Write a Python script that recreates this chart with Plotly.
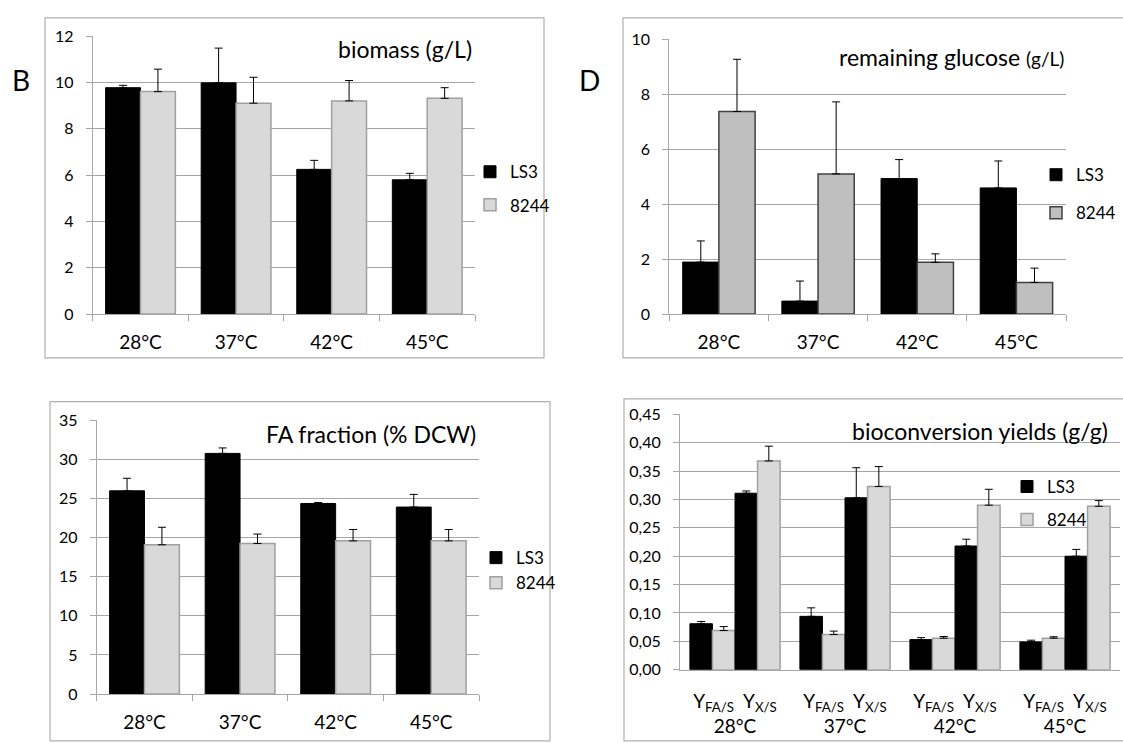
import plotly.graph_objects as go

W, H = 1123, 743
FONT = "Lato"

temps = ["28°C", "37°C", "42°C", "45°C"]

# Panel B: biomass (g/L)
bio_ls3 = [9.78, 9.99, 6.25, 5.80]
bio_ls3_err = [0.10, 1.50, 0.39, 0.28]
bio_8244 = [9.61, 9.11, 9.21, 9.32]
bio_8244_err = [0.97, 1.12, 0.88, 0.46]

# Panel D: remaining glucose (g/L)
glu_ls3 = [1.89, 0.47, 4.93, 4.59]
glu_ls3_err = [0.77, 0.73, 0.69, 0.98]
glu_8244 = [7.37, 5.10, 1.88, 1.15]
glu_8244_err = [1.90, 2.62, 0.31, 0.52]

# Panel C: FA fraction (% DCW)
fa_ls3 = [25.98, 30.76, 24.36, 23.90]
fa_ls3_err = [1.60, 0.70, 0.12, 1.62]
fa_8244 = [19.08, 19.25, 19.58, 19.58]
fa_8244_err = [2.24, 1.20, 1.45, 1.45]

# Panel E: bioconversion yields (g/g)
yfa_ls3 = [0.081, 0.094, 0.053, 0.049]
yfa_ls3_err = [0.004, 0.015, 0.0035, 0.003]
yfa_8244 = [0.069, 0.062, 0.0555, 0.0555]
yfa_8244_err = [0.007, 0.006, 0.003, 0.0025]
yxs_ls3 = [0.311, 0.303, 0.218, 0.200]
yxs_ls3_err = [0.004, 0.053, 0.012, 0.012]
yxs_8244 = [0.368, 0.323, 0.290, 0.288]
yxs_8244_err = [0.026, 0.035, 0.028, 0.010]
yield_ticktext = ["Y<sub>FA/S</sub>  Y<sub>X/S</sub><br>" + t for t in temps]

BLACK = "#000000"
LIGHT = "#d9d9d9"
LIGHT_LINE = "#a0a0a0"
MID = "#bfbfbf"
MID_LINE = "#404040"
GRID = "#a6a6a6"
FRAME = "#b0b0b0"


def px(x):
    return x / W


def py(y):
    return 1 - y / H


def err(a):
    return dict(type="data", symmetric=False, array=a, arrayminus=[0] * len(a),
                color="black", thickness=1, width=4)


fig = go.Figure()

panels = [
    dict(ax="", leg="legend", ls3=bio_ls3, ls3e=bio_ls3_err, s=bio_8244, se=bio_8244_err,
         fill=LIGHT, line=LIGHT_LINE, same=False),
    dict(ax="2", leg="legend2", ls3=glu_ls3, ls3e=glu_ls3_err, s=glu_8244, se=glu_8244_err,
         fill=MID, line=MID_LINE, same=False),
    dict(ax="3", leg="legend3", ls3=fa_ls3, ls3e=fa_ls3_err, s=fa_8244, se=fa_8244_err,
         fill=LIGHT, line=LIGHT_LINE, same=True),
]

for p in panels:
    g1 = "grp" + p["ax"] if p["same"] else "LS3" + p["ax"]
    g2 = "grp" + p["ax"] if p["same"] else "8244" + p["ax"]
    fig.add_trace(go.Bar(x=temps, y=p["ls3"], name="LS3", error_y=err(p["ls3e"]),
                         marker=dict(color=BLACK, line=dict(color=BLACK, width=1)),
                         xaxis="x" + p["ax"], yaxis="y" + p["ax"], legend=p["leg"],
                         legendgroup=g1))
    fig.add_trace(go.Bar(x=temps, y=p["s"], name="8244", error_y=err(p["se"]),
                         marker=dict(color=p["fill"], line=dict(color=p["line"], width=1.5)),
                         xaxis="x" + p["ax"], yaxis="y" + p["ax"], legend=p["leg"],
                         legendgroup=g2))

# Panel E: four bars per temperature
bw = 0.205
e_series = [
    ("LS3", yfa_ls3, yfa_ls3_err, BLACK, BLACK, True, -2 * bw),
    ("8244", yfa_8244, yfa_8244_err, LIGHT, LIGHT_LINE, True, -bw),
    ("LS3", yxs_ls3, yxs_ls3_err, BLACK, BLACK, False, 0),
    ("8244", yxs_8244, yxs_8244_err, LIGHT, LIGHT_LINE, False, bw),
]
for name, vals, e, fc, lc, show, off in e_series:
    fig.add_trace(go.Bar(x=temps, y=vals, name=name, error_y=err(e),
                         marker=dict(color=fc, line=dict(color=lc, width=1 if fc == BLACK else 1.5)),
                         width=bw, offset=off, showlegend=show,
                         xaxis="x4", yaxis="y4", legend="legend4",
                         legendgroup=name + "4"))

# axis domains in pixel coords: (x0, x1, ytop, ybottom)
doms = {
    "": (92.7, 475, 27, 312),
    "2": (669.3, 1066, 30, 312),
    "3": (96.7, 479, 421, 702),
    "4": (680, 1120, 415, 677),
}
yranges = {"": ([0, 12], 2, None), "2": ([0, 10], 2, None), "3": ([0, 35], 5, None),
           "4": ([0, 0.45], 0.05, ".2f")}

for k, (x0, x1, yt, yb) in doms.items():
    xa = dict(domain=[px(x0), px(x1)], anchor="y" + k, type="category",
              showline=True, linecolor=GRID, linewidth=1, showgrid=False,
              tickfont=dict(family=FONT, size=19, color="black"),
              ticks="outside" if k != "4" else "", ticklen=6, tickcolor=GRID,
              tickson="boundaries", ticklabelstandoff=11, fixedrange=True)
    if k == "4":
        xa.update(tickvals=temps, ticktext=yield_ticktext, ticklabelstandoff=15)
    rng, dt, fmt = yranges[k]
    ya = dict(domain=[py(yb), py(yt)], anchor="x" + k, range=rng, dtick=dt,
              showline=True, linecolor=GRID, linewidth=1,
              showgrid=True, gridcolor=GRID, gridwidth=1, zeroline=False,
              ticks="outside", ticklen=6, tickcolor=GRID,
              tickfont=dict(family=FONT, size=16, color="black"),
              ticklabelstandoff=9, fixedrange=True)
    if fmt:
        ya["tickformat"] = fmt
    fig.update_layout(**{"xaxis" + k: xa, "yaxis" + k: ya})

legend_common = dict(font=dict(family=FONT, size=17, color="black"), bgcolor="rgba(0,0,0,0)",
                     xanchor="left", yanchor="top", traceorder="grouped", itemclick=False,
                     itemdoubleclick=False)
fig.update_layout(
    legend=dict(x=px(470), y=py(148), tracegroupgap=8, **legend_common),
    legend2=dict(x=px(1036), y=py(151), tracegroupgap=13, **legend_common),
    legend3=dict(x=px(476), y=py(544), tracegroupgap=0, **legend_common),
    legend4=dict(x=px(1007), y=py(471), tracegroupgap=8, **legend_common),
)

shapes = []
for (x0, x1, y0, y1) in [(45, 544, 8, 357), (623, 1126, 8, 357), (50, 550, 402, 750), (624, 1126, 399, 750)]:
    shapes.append(dict(type="rect", xref="paper", yref="paper", x0=px(x0), x1=px(x1),
                       y0=py(y1), y1=py(y0), line=dict(color=FRAME, width=1.2),
                       fillcolor="rgba(0,0,0,0)", layer="below"))

ann = []
titles = [
    ("biomass (g/L)", 474, 40),
    ("remaining glucose <span style='font-size:19px'>(g/L)</span>", 1066, 48),
    ("FA fraction (% DCW)", 478, 435),
    ("bioconversion yields (g/g)", 1110, 432),
]
for txt, xr, yc in titles:
    ann.append(dict(text=txt, xref="paper", yref="paper", x=px(xr), y=py(yc),
                    xanchor="right", yanchor="middle", showarrow=False,
                    font=dict(family=FONT, size=23, color="black")))
for txt, xc, yc in [("B", 21, 72), ("D", 589, 72)]:
    ann.append(dict(text=txt, xref="paper", yref="paper", x=px(xc), y=py(yc),
                    xanchor="center", yanchor="middle", showarrow=False,
                    font=dict(family=FONT, size=28, color="black")))

fig.update_layout(
    width=W, height=H, margin=dict(l=0, r=0, t=0, b=0),
    paper_bgcolor="white", plot_bgcolor="white",
    barmode="group", bargap=0.27, bargroupgap=0,
    separators=", ", showlegend=True,
    shapes=shapes, annotations=ann,
    font=dict(family=FONT, color="black"),
)

fig.write_html("out.html", config={"displayModeBar": False},
               post_script="document.body.style.margin='0';document.body.style.overflow='hidden';")
